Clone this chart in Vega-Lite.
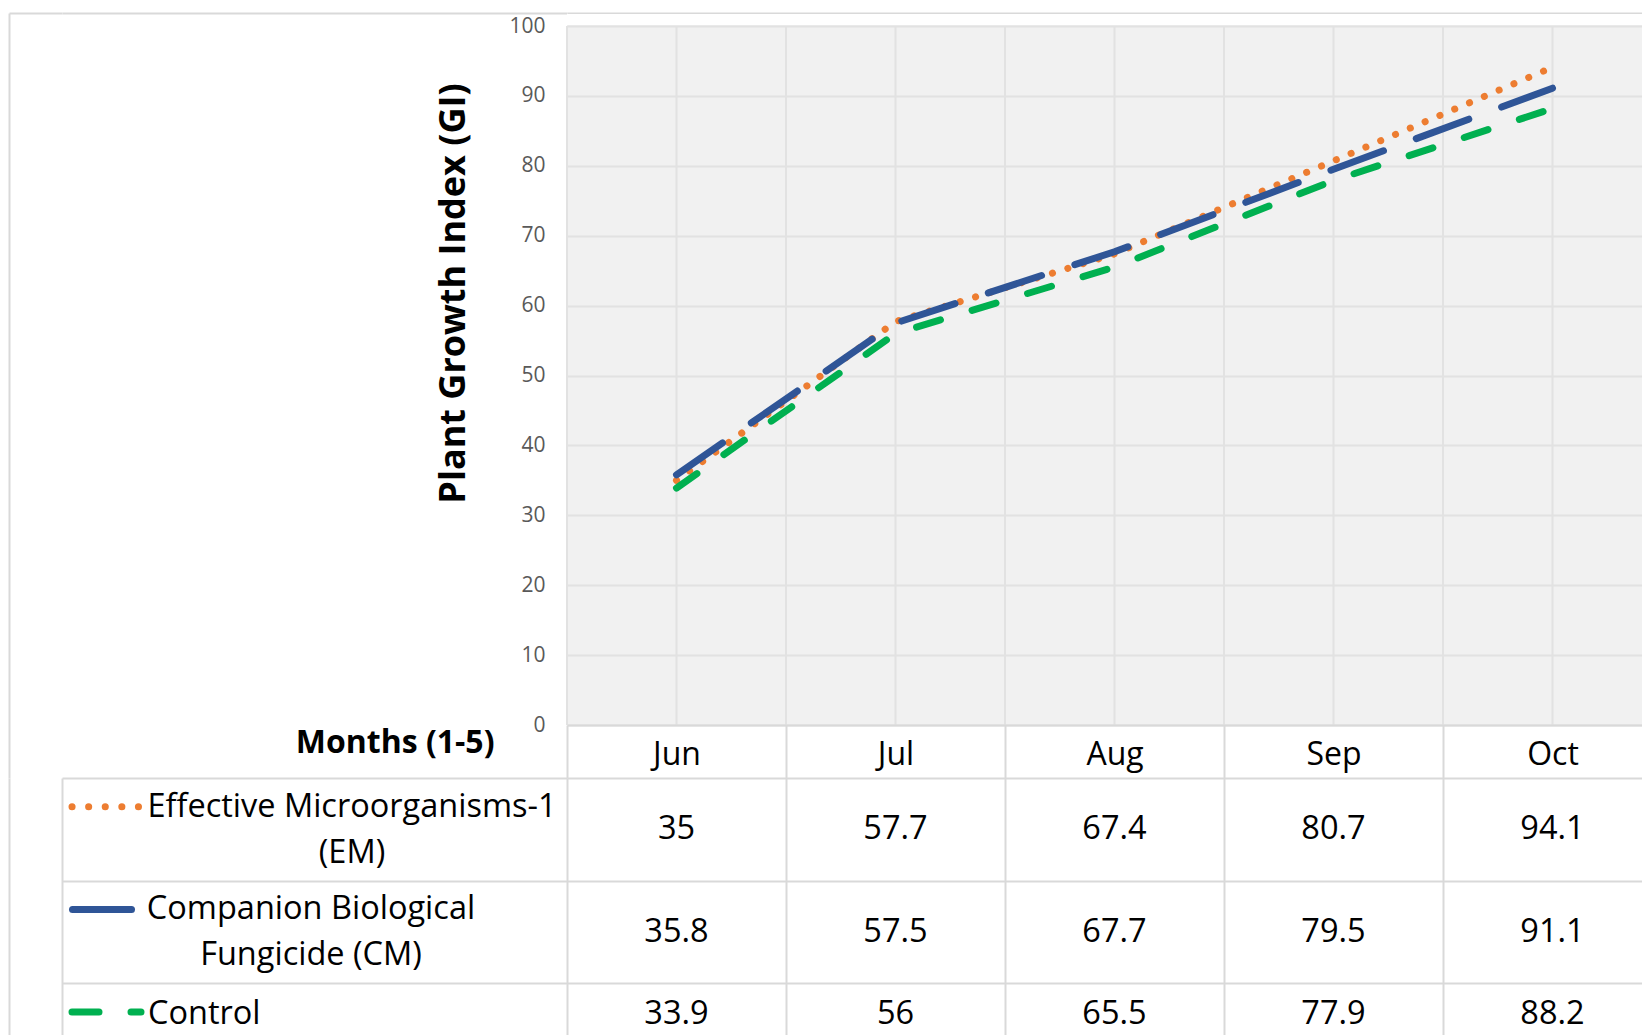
{
  "$schema": "https://vega.github.io/schema/vega-lite/v6.json",
  "background": "white",
  "padding": {"left": 6, "top": 13, "right": 0, "bottom": 0},
  "config": {
    "view": {"stroke": null},
    "font": "Open Sans",
    "axis": {"labelFont": "Open Sans", "titleFont": "Open Sans"},
    "text": {"font": "Open Sans"}
  },
  "datasets": {
    "gi": [
      {"month": "Jun", "series": "EM", "gi": 35},
      {"month": "Jul", "series": "EM", "gi": 57.7},
      {"month": "Aug", "series": "EM", "gi": 67.4},
      {"month": "Sep", "series": "EM", "gi": 80.7},
      {"month": "Oct", "series": "EM", "gi": 94.1},
      {"month": "Jun", "series": "CM", "gi": 35.8},
      {"month": "Jul", "series": "CM", "gi": 57.5},
      {"month": "Aug", "series": "CM", "gi": 67.7},
      {"month": "Sep", "series": "CM", "gi": 79.5},
      {"month": "Oct", "series": "CM", "gi": 91.1},
      {"month": "Jun", "series": "Control", "gi": 33.9},
      {"month": "Jul", "series": "Control", "gi": 56},
      {"month": "Aug", "series": "Control", "gi": 65.5},
      {"month": "Sep", "series": "Control", "gi": 77.9},
      {"month": "Oct", "series": "Control", "gi": 88.2}
    ],
    "series": [
      {"series": "EM", "label": "Effective Microorganisms-1\n(EM)"},
      {"series": "CM", "label": "Companion Biological\nFungicide (CM)"},
      {"series": "Control", "label": "Control"}
    ],
    "frame": [{"v": 0}]
  },
  "columns": 3,
  "spacing": 0,
  "bounds": "flush",
  "align": "each",
  "concat": [
    {
      "width": 53,
      "height": 765,
      "data": {"name": "frame"},
      "mark": {"type": "point", "opacity": 0},
      "encoding": {
        "x": {
          "field": "v", "type": "quantitative", "scale": {"domain": [0, 1]},
          "axis": {"orient": "top", "labels": false, "ticks": false, "grid": false, "domain": true, "domainColor": "#d9d9d9", "domainWidth": 2, "title": null}
        },
        "y": {
          "field": "v", "type": "quantitative", "scale": {"domain": [0, 1]},
          "axis": {"orient": "left", "labels": false, "ticks": false, "grid": false, "domain": true, "domainColor": "#d9d9d9", "domainWidth": 2, "title": null}
        }
      }
    },
    {
      "width": 505,
      "height": 765,
      "data": {"name": "frame"},
      "mark": {"type": "point", "opacity": 0},
      "encoding": {
        "x": {
          "field": "v", "type": "quantitative", "scale": {"domain": [0, 1]},
          "axis": {"orient": "top", "labels": false, "ticks": false, "grid": false, "domain": true, "domainColor": "#d9d9d9", "domainWidth": 2, "title": null}
        },
        "y": {"field": "v", "type": "quantitative", "scale": {"domain": [0, 1]}, "axis": null}
      }
    },
    {
      "width": 1095,
      "height": 712,
      "view": {"fill": "#f1f1f1", "stroke": null},
      "data": {"name": "gi"},
      "layer": [
        {
          "transform": [{"filter": "datum.series === 'EM'"}],
          "mark": {"type": "rect", "color": "white"},
          "encoding": {
            "x": {
              "field": "month", "type": "nominal",
              "scale": {"type": "band", "domain": ["Jun", "Jul", "Aug", "Sep", "Oct"], "paddingInner": 0, "paddingOuter": 0}
            },
            "y": {"datum": 100.15, "type": "quantitative", "scale": {"domain": [0, 101.86], "nice": false, "zero": false}},
            "y2": {"datum": 101.7}
          }
        },
        {
          "transform": [{"filter": "datum.series === 'EM'"}],
          "mark": {"type": "rule", "color": "#e2e2e2", "strokeWidth": 2},
          "encoding": {
            "x": {"field": "month", "type": "nominal", "bandPosition": 0},
            "y": {"datum": 0, "type": "quantitative"},
            "y2": {"datum": 100}
          }
        },
        {
          "transform": [{"filter": "datum.series === 'EM'"}],
          "mark": {"type": "rule", "color": "#e2e2e2", "strokeWidth": 2},
          "encoding": {
            "x": {"field": "month", "type": "nominal", "bandPosition": 0.5},
            "y": {"datum": 0, "type": "quantitative"},
            "y2": {"datum": 100}
          }
        },
        {
          "mark": {"type": "line", "strokeWidth": 7, "strokeCap": "round", "strokeJoin": "round"},
          "encoding": {
            "x": {
              "field": "month", "type": "nominal", "bandPosition": 0.5,
              "axis": {
                "orient": "bottom", "tickBand": "extent", "ticks": true, "tickSize": 53, "tickColor": "#d9d9d9", "tickWidth": 2,
                "domain": true, "domainColor": "#d9d9d9", "domainWidth": 2, "grid": false,
                "labelAngle": 0, "labelAlign": "center", "labelFontSize": 32, "labelColor": "black", "labelBaseline": "middle", "labelPadding": -24,
                "title": "Months (1-5)", "titleFontSize": 32, "titleFontWeight": "bold", "titleColor": "black",
                "titleAlign": "right", "titleBaseline": "middle", "titleX": -73, "titleY": 17
              }
            },
            "y": {
              "field": "gi", "type": "quantitative",
              "axis": {
                "orient": "left", "values": [0, 10, 20, 30, 40, 50, 60, 70, 80, 90, 100, 101.86],
                "labelExpr": "datum.value > 100 ? '' : datum.label",
                "labelFontSize": 21, "labelColor": "#595959", "labelPadding": 22,
                "ticks": false, "domain": false, "grid": true,
                "gridColor": {"condition": {"test": "datum.value > 100", "value": "#d9d9d9"}, "value": "#e2e2e2"},
                "gridWidth": 2,
                "title": "Plant Growth Index (GI)", "titleFontSize": 36, "titleFontWeight": "bold", "titleColor": "black",
                "titlePadding": 36, "titleY": 280
              }
            },
            "color": {
              "field": "series", "type": "nominal",
              "scale": {"domain": ["EM", "CM", "Control"], "range": ["#ED7D31", "#2F5597", "#00B050"]},
              "legend": null
            },
            "strokeDash": {
              "field": "series", "type": "nominal",
              "scale": {"domain": ["EM", "CM", "Control"], "range": [[0.1, 16], [56, 35], [25, 33]]},
              "legend": null
            }
          }
        }
      ]
    },
    {
      "width": 53,
      "height": 308,
      "data": {"name": "frame"},
      "mark": {"type": "point", "opacity": 0},
      "encoding": {
        "x": {"field": "v", "type": "quantitative", "scale": {"domain": [0, 1]}, "axis": null},
        "y": {
          "field": "v", "type": "quantitative", "scale": {"domain": [0, 1]},
          "axis": {"orient": "left", "labels": false, "ticks": false, "grid": false, "domain": true, "domainColor": "#d9d9d9", "domainWidth": 2, "title": null}
        }
      }
    },
    {
      "width": 505,
      "height": 308,
      "data": {"name": "series"},
      "layer": [
        {
          "transform": [{"filter": "datum.series === 'EM'"}],
          "mark": {"type": "rule", "color": "#ED7D31", "strokeWidth": 7, "strokeCap": "round", "strokeDash": [0.1, 16.5]},
          "encoding": {
            "x": {"value": 10},
            "x2": {"value": 78},
            "y": {
              "field": "series", "type": "nominal", "bandPosition": 0.28,
              "scale": {"type": "band", "domain": ["EM", "CM", "Control"], "paddingInner": 0, "paddingOuter": 0},
              "axis": {"orient": "left", "tickBand": "extent", "grid": true, "gridColor": "#d9d9d9", "gridWidth": 2, "labels": false, "ticks": false, "domain": true, "domainColor": "#d9d9d9", "domainWidth": 2, "title": null}
            }
          }
        },
        {
          "transform": [{"filter": "datum.series === 'CM'"}],
          "mark": {"type": "rule", "color": "#2F5597", "strokeWidth": 7, "strokeCap": "round"},
          "encoding": {
            "x": {"value": 10.5},
            "x2": {"value": 69.5},
            "y": {"field": "series", "type": "nominal", "bandPosition": 0.28}
          }
        },
        {
          "transform": [{"filter": "datum.series === 'Control'"}],
          "mark": {"type": "rule", "color": "#00B050", "strokeWidth": 7, "strokeCap": "round", "strokeDash": [27, 32]},
          "encoding": {
            "x": {"value": 10},
            "x2": {"value": 79},
            "y": {"field": "series", "type": "nominal", "bandPosition": 0.28}
          }
        },
        {
          "transform": [{"filter": "datum.series === 'EM'"}],
          "mark": {"type": "text", "fontSize": 32.5, "color": "black", "align": "center", "baseline": "middle", "lineBreak": "\n", "lineHeight": 46},
          "encoding": {
            "x": {"value": 290},
            "y": {"field": "series", "type": "nominal", "bandPosition": 0.28},
            "text": {"field": "label"}
          }
        },
        {
          "transform": [{"filter": "datum.series === 'CM'"}],
          "mark": {"type": "text", "fontSize": 32.5, "color": "black", "align": "center", "baseline": "middle", "lineBreak": "\n", "lineHeight": 46},
          "encoding": {
            "x": {"value": 249},
            "y": {"field": "series", "type": "nominal", "bandPosition": 0.28},
            "text": {"field": "label"}
          }
        },
        {
          "transform": [{"filter": "datum.series === 'Control'"}],
          "mark": {"type": "text", "fontSize": 32.5, "color": "black", "align": "left", "baseline": "middle"},
          "encoding": {
            "x": {"value": 86},
            "y": {"field": "series", "type": "nominal", "bandPosition": 0.3},
            "text": {"field": "label"}
          }
        }
      ]
    },
    {
      "width": 1095,
      "height": 308,
      "data": {"name": "gi"},
      "layer": [
        {
          "transform": [{"filter": "datum.series !== 'Control'"}],
          "mark": {"type": "text", "fontSize": 32.5, "color": "black", "align": "center", "baseline": "middle"},
          "encoding": {
            "x": {
              "field": "month", "type": "nominal", "bandPosition": 0.5,
              "scale": {"type": "band", "domain": ["Jun", "Jul", "Aug", "Sep", "Oct"], "paddingInner": 0, "paddingOuter": 0},
              "axis": {"orient": "top", "tickBand": "extent", "grid": true, "gridColor": "#d9d9d9", "gridWidth": 2, "labels": false, "ticks": false, "domain": false, "title": null}
            },
            "y": {
              "field": "series", "type": "nominal", "bandPosition": 0.5,
              "scale": {"type": "band", "domain": ["EM", "CM", "Control"], "paddingInner": 0, "paddingOuter": 0},
              "axis": {"orient": "left", "tickBand": "extent", "grid": true, "gridColor": "#d9d9d9", "gridWidth": 2, "labels": false, "ticks": false, "domain": false, "title": null}
            },
            "text": {"field": "gi", "type": "quantitative"}
          }
        },
        {
          "transform": [{"filter": "datum.series === 'Control'"}],
          "mark": {"type": "text", "fontSize": 32.5, "color": "black", "align": "center", "baseline": "middle"},
          "encoding": {
            "x": {"field": "month", "type": "nominal", "bandPosition": 0.5},
            "y": {"field": "series", "type": "nominal", "bandPosition": 0.3},
            "text": {"field": "gi", "type": "quantitative"}
          }
        }
      ]
    }
  ]
}
